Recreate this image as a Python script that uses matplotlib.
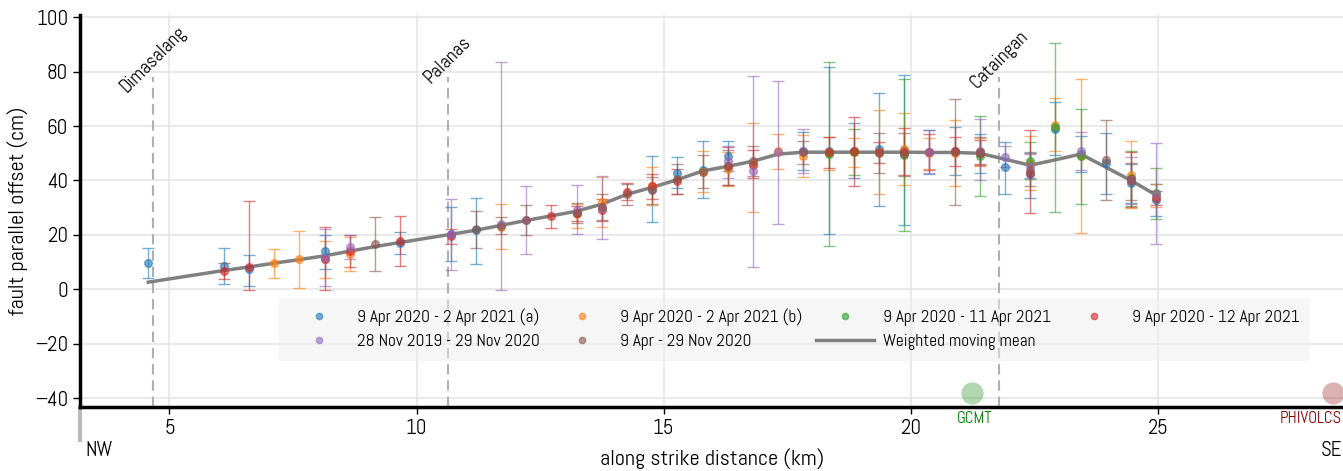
import numpy as np
import matplotlib
matplotlib.use("Agg")
import matplotlib.pyplot as plt

plt.rcParams['font.family'] = ['Abel', 'DejaVu Sans']

# ---- data (km, cm) ----
# 9 Apr 2020 - 2 Apr 2021 (a)
a_x = [4.57, 6.10, 6.61, 8.14, 9.67, 10.69, 11.20, 14.77, 15.28, 15.79, 16.30, 17.83, 18.34,
       18.85, 19.36, 19.87, 20.38, 20.89, 21.40, 21.91, 22.42, 22.93, 23.44, 23.95, 24.46, 24.97]
a_y = [9.8, 8.7, 7.4, 13.9, 17.0, 20.3, 21.7, 37.0, 42.8, 44.0, 48.9, 50.9, 50.9,
       51.0, 51.5, 51.3, 50.4, 50.8, 50.0, 44.8, 42.3, 59.0, 49.8, 46.3, 38.9, 32.8]
a_lo = [4.3, 2.1, 1.2, 7.5, 13.0, 10.4, 9.4, 24.7, 37.2, 33.7, 43.4, 44.0, 20.3,
        40.9, 30.7, 23.8, 42.3, 42.1, 42.8, 35.1, 33.6, 49.3, 43.3, 34.9, 31.8, 27.0]
a_hi = [15.3, 15.0, 12.6, 20.1, 20.9, 30.1, 33.7, 49.1, 48.6, 54.6, 54.4, 57.7, 81.6,
        61.1, 72.3, 78.8, 58.5, 59.5, 57.2, 54.2, 50.6, 68.8, 56.2, 57.4, 46.0, 38.6]

# 9 Apr 2020 - 2 Apr 2021 (b)
b_x = [7.12, 7.63, 8.14, 8.65, 11.71, 13.24, 13.75, 14.77, 15.79, 16.30, 16.81, 17.32, 17.83,
       18.34, 18.85, 19.36, 19.87, 20.38, 20.89, 21.40, 22.42, 22.93, 23.44, 24.46, 24.97]
b_y = [9.6, 11.0, 11.0, 12.9, 23.0, 27.5, 32.0, 37.9, 43.3, 44.2, 46.2, 50.7, 48.9,
       50.0, 50.4, 50.6, 51.5, 50.0, 50.1, 50.5, 46.5, 60.4, 49.0, 42.1, 34.5]
b_lo = [4.2, 0.6, 4.1, 6.6, 14.8, 22.7, 22.8, 31.0, 35.9, 37.9, 28.5, 44.2, 41.1,
        43.9, 45.1, 35.2, 38.2, 44.4, 37.9, 45.2, 36.6, 50.7, 20.6, 29.7, 30.3]
b_hi = [14.8, 21.3, 17.9, 19.2, 31.2, 31.4, 41.2, 44.8, 50.7, 50.5, 61.2, 57.2, 56.7,
        56.1, 55.7, 66.1, 64.8, 55.5, 62.3, 55.8, 56.3, 70.2, 77.3, 54.5, 38.7]

# 9 Apr 2020 - 11 Apr 2021
c_x = [18.34, 18.85, 19.87, 21.40, 22.42, 22.93, 23.44, 24.46, 24.97]
c_y = [49.7, 50.5, 49.5, 49.1, 47.0, 59.5, 49.1, 40.8, 35.3]
c_lo = [15.8, 42.1, 21.6, 34.2, 40.4, 28.3, 31.2, 30.5, 26.0]
c_hi = [83.4, 59.0, 77.3, 63.6, 54.0, 90.7, 66.4, 50.7, 44.6]

# 9 Apr 2020 - 12 Apr 2021
d_x = [6.10, 6.61, 8.14, 8.65, 9.67, 10.69, 12.73, 13.24, 13.75, 14.26, 14.77, 15.28, 16.30,
       16.81, 18.34, 18.85, 19.36, 19.87, 20.38, 20.89, 21.40, 22.42, 24.46, 24.97]
d_y = [6.7, 8.0, 11.0, 14.0, 17.7, 19.5, 26.9, 28.0, 29.3, 35.7, 37.8, 39.7, 45.3,
       45.6, 50.4, 50.8, 50.4, 50.6, 50.5, 50.7, 50.2, 42.9, 40.4, 33.4]
d_lo = [3.7, -0.1, -0.1, 8.1, 8.7, 16.8, 22.4, 25.2, 25.2, 33.0, 33.2, 34.9, 38.3,
        41.0, 44.7, 38.1, 46.5, 42.0, 43.8, 45.4, 45.6, 28.0, 30.2, 31.0]
d_hi = [9.6, 32.3, 22.9, 20.0, 27.0, 22.2, 31.1, 30.7, 33.2, 39.0, 42.5, 44.4, 52.2,
        51.3, 56.0, 63.4, 54.3, 59.2, 57.2, 56.0, 54.8, 58.4, 50.6, 36.0]

# 28 Nov 2019 - 29 Nov 2020
e_x = [8.14, 8.65, 10.69, 11.71, 12.22, 13.24, 13.75, 16.30, 16.81, 17.32, 17.83, 20.38,
       21.40, 21.91, 22.42, 23.44, 24.46, 24.97]
e_y = [11.6, 15.4, 20.2, 23.9, 25.5, 29.3, 30.0, 47.0, 43.5, 50.5, 50.7, 50.6,
       51.0, 48.7, 45.3, 50.8, 40.0, 35.2]
e_lo = [1.2, 11.0, 7.2, -0.1, 13.1, 20.2, 18.3, 41.0, 8.3, 23.9, 42.6, 42.8,
        40.1, 44.8, 41.0, 44.0, 31.5, 16.6]
e_hi = [22.0, 20.0, 33.2, 83.7, 37.9, 38.5, 41.8, 52.6, 78.6, 76.7, 58.8, 58.5,
        62.7, 52.6, 49.8, 57.9, 48.5, 53.6]

# 9 Apr - 29 Nov 2020
f_x = [9.16, 11.20, 11.71, 12.22, 13.24, 13.75, 14.26, 14.77, 15.28, 15.79, 16.30, 16.81,
       17.83, 19.36, 19.87, 20.89, 21.40, 22.42, 23.95, 24.46]
f_y = [16.6, 22.0, 23.3, 25.4, 28.0, 30.3, 34.9, 36.4, 40.5, 43.3, 45.5, 47.2,
       50.3, 50.1, 49.6, 50.4, 50.3, 44.0, 47.4, 39.7]
f_lo = [6.6, 15.2, 20.2, 19.8, 24.5, 25.6, 30.8, 31.4, 35.0, 37.4, 38.4, 41.7,
        45.9, 42.9, 41.8, 30.9, 46.0, 38.0, 33.0, 33.0]
f_hi = [26.4, 28.8, 26.4, 31.1, 31.8, 35.0, 38.8, 41.4, 46.1, 49.2, 51.3, 52.7,
        54.7, 57.3, 57.3, 69.8, 56.0, 50.0, 62.1, 46.4]

# weighted moving mean
wmm_x = [4.57, 6.10, 6.61, 7.12, 7.63, 8.14, 8.65, 9.16, 9.67, 10.69, 11.20, 11.71, 12.22,
         12.73, 13.24, 13.75, 14.26, 14.77, 15.28, 15.79, 16.30, 16.81, 17.32, 17.83, 18.34,
         18.85, 19.36, 19.87, 20.38, 20.89, 21.40, 21.91, 22.42, 22.93, 23.44, 23.95, 24.46, 24.97]
wmm_y = [2.6, 6.9, 8.2, 9.6, 10.9, 12.3, 14.0, 15.7, 17.2, 20.2, 21.7, 23.5, 25.3,
         27.0, 28.7, 31.3, 34.9, 37.5, 40.3, 43.5, 45.2, 47.1, 49.7, 50.4, 50.4,
         50.4, 50.4, 50.4, 50.3, 50.3, 50.0, 47.8, 45.6, 47.6, 49.7, 44.9, 40.0, 34.6]

# towns along strike
town_names = ["Dimasalang", "Palanas", "Cataingan"]
town_x = [4.67, 10.63, 21.79]

# epicentres
epi_names = ["GCMT", "PHIVOLCS"]
epi_x = [21.24, 28.55]
epi_label_x = [21.3, 28.1]
epi_y = [-38, -38]
epi_colors = ["green", "darkred"]

series = [
    (a_x, a_y, a_lo, a_hi, "tab:blue", "9 Apr 2020 - 2 Apr 2021 (a)"),
    (b_x, b_y, b_lo, b_hi, "tab:orange", "9 Apr 2020 - 2 Apr 2021 (b)"),
    (c_x, c_y, c_lo, c_hi, "tab:green", "9 Apr 2020 - 11 Apr 2021"),
    (d_x, d_y, d_lo, d_hi, "tab:red", "9 Apr 2020 - 12 Apr 2021"),
    (e_x, e_y, e_lo, e_hi, "tab:purple", "28 Nov 2019 - 29 Nov 2020"),
    (f_x, f_y, f_lo, f_hi, "tab:brown", "9 Apr - 29 Nov 2020"),
]

fig = plt.figure(figsize=(13.43, 4.71), dpi=100)
ax = fig.add_axes([0.0596, 0.1359, 0.9404, 0.8331])
ax.set_xlim(3.19, 28.75)
ax.set_ylim(-43.3, 101)

ax.grid(True, color="#e6e6e6", lw=1.2, zorder=0)
ax.set_axisbelow(True)

wmm_line, = ax.plot(wmm_x, wmm_y, color="grey", lw=2.5, zorder=2,
                    label="Weighted moving mean")

handles = {}
for x, y, lo, hi, col, lab in series:
    y = np.array(y)
    err = [y - np.array(lo), np.array(hi) - y]
    ax.errorbar(x, y, yerr=err, fmt="o", color=col, alpha=0.6, ms=5.5,
                capsize=4, elinewidth=1, capthick=1, zorder=3)
    h, = ax.plot([], [], "o", color=col, alpha=0.6, ms=4.5, label=lab)
    handles[lab] = h

for name, x in zip(town_names, town_x):
    ax.plot([x, x], [-43.3, 78], ls=(0, (5, 2.8)), color="#b0b0b0", lw=1.5, zorder=1)
    ax.text(x, 84.5, name, rotation=45, ha="center", va="center", fontsize=14)

for name, x, lx, y, col in zip(epi_names, epi_x, epi_label_x, epi_y, epi_colors):
    ax.plot(x, y, "o", ms=16, color=col, alpha=0.3, mec="none", clip_on=False, zorder=4)
    ax.annotate(name, (lx, -43.3), xytext=(0, -3), textcoords="offset points",
                ha="center", va="top", color=col, fontsize=12, annotation_clip=False)

labs = [s[5] for s in series]
order = [labs[0], labs[4], labs[1], labs[5], labs[2], None, labs[3]]
hs = [handles[l] if l else wmm_line for l in order]
ls_ = [l if l else "Weighted moving mean" for l in order]
leg = ax.legend(hs, ls_, ncol=4, loc="center", bbox_to_anchor=(0.566, 0.198),
                fontsize=12.5, frameon=True, fancybox=False, handlelength=3.3,
                handletextpad=0.55, columnspacing=0.8, borderpad=0.6,
                labelspacing=0.45)
leg.get_frame().set_facecolor("#eeeeee")
leg.get_frame().set_edgecolor("none")
leg.get_frame().set_alpha(0.5)

for s in ["top", "right"]:
    ax.spines[s].set_visible(False)
for s in ["left", "bottom"]:
    ax.spines[s].set_linewidth(2.5)
    ax.spines[s].set_color("black")

ax.set_xticks([5, 10, 15, 20, 25])
ax.set_yticks([-40, -20, 0, 20, 40, 60, 80, 100])
ax.tick_params(labelsize=15, length=5, width=1)
ax.set_xlabel("along strike distance (km)", fontsize=16, labelpad=8)
ax.set_ylabel("fault parallel offset (cm)", fontsize=16, labelpad=4)

ax.plot([0, 0], [-0.003, -0.084], transform=ax.transAxes, color="#bbbbbb", lw=3,
        clip_on=False)
fig.text(85 / 1343, 1 - 450 / 471, "NW", ha="left", va="center", fontsize=15)
fig.text(1342 / 1343, 1 - 450 / 471, "SE", ha="right", va="center", fontsize=15)

fig.savefig("out.png", dpi=100)
